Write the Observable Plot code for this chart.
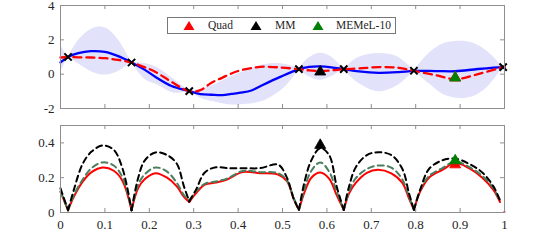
<!DOCTYPE html>
<html><head><meta charset="utf-8">
<script src="https://cdn.jsdelivr.net/npm/d3@7"></script>
<script src="https://cdn.jsdelivr.net/npm/@observablehq/plot@0.6"></script>
<style>
body{margin:0;background:#fff;}
#wrap{position:relative;width:538px;height:243px;font-family:"Liberation Serif","Times New Roman",serif;color:#262626;}
#wrap svg.plot-svg{display:block;background:transparent;overflow:visible;}
#wrap svg.plot-svg text{font-family:"Liberation Serif","Times New Roman",serif;font-size:13px;}
.legend{position:absolute;left:167px;top:17px;width:229px;height:17px;box-sizing:border-box;border:1px solid #777;background:#fff;font-size:11.5px;}
.legend .lab{position:absolute;top:0;line-height:15px;white-space:nowrap;}
.legend svg{position:absolute;top:2px;}
</style></head><body><div id="wrap"></div>
<script>
// ---------- data: top panel ----------
const obsX = [0.017, 0.16, 0.29, 0.537, 0.638, 0.796, 0.997];
const obsY = [1.0, 0.68, -0.99, 0.29, 0.29, 0.2, 0.41];

const curveX = [0, 0.017, 0.04, 0.068, 0.1, 0.13, 0.16, 0.19, 0.214, 0.25, 0.29, 0.315, 0.34, 0.365, 0.385, 0.405, 0.43, 0.45, 0.495, 0.537, 0.56, 0.585, 0.61, 0.638, 0.672, 0.717, 0.762, 0.796, 0.845, 0.89, 0.94, 0.997, 1.0];
const gpMean = [0.68, 1.0, 1.22, 1.34, 1.30, 1.05, 0.68, 0.25, -0.16, -0.69, -0.99, -1.16, -1.2, -1.22, -1.15, -1.08, -0.95, -0.7, -0.16, 0.29, 0.42, 0.45, 0.40, 0.29, 0.16, 0.08, 0.12, 0.19, 0.18, 0.17, 0.30, 0.41, 0.41];
const trueFn = [0.97, 1.0, 0.98, 0.97, 0.93, 0.83, 0.68, 0.40, 0.13, -0.45, -0.99, -0.93, -0.5, -0.2, 0.04, 0.22, 0.35, 0.43, 0.39, 0.29, 0.22, 0.19, 0.22, 0.29, 0.33, 0.41, 0.37, 0.19, -0.06, -0.29, 0.0, 0.41, 0.42];

const bandX  = [0, 0.017, 0.04, 0.065, 0.085, 0.105, 0.13, 0.16, 0.19, 0.22, 0.255, 0.29, 0.32, 0.345, 0.38, 0.42, 0.45, 0.48, 0.51, 0.537, 0.56, 0.585, 0.61, 0.638, 0.67, 0.717, 0.76, 0.796, 0.83, 0.86, 0.897, 0.93, 0.96, 0.997, 1.0];
const bandHi = [1.65, 1.0, 1.95, 2.55, 2.75, 2.65, 2.0, 0.68, 0.62, 0.35, -0.3, -0.99, -0.85, -0.64, -0.2, 0.23, 0.5, 0.62, 0.55, 0.29, 0.95, 1.22, 1.0, 0.29, 0.95, 1.2, 1.0, 0.19, 1.2, 1.75, 1.92, 1.8, 1.35, 0.41, 0.41];
const bandLo = [0.1, 1.0, 0.6, 0.2, 0.0, -0.05, 0.15, 0.68, -0.3, -0.65, -1.1, -0.99, -1.45, -1.61, -1.78, -1.75, -1.62, -1.25, -0.64, 0.29, -0.15, -0.35, -0.15, 0.29, -0.5, -1.03, -0.65, 0.19, -0.55, -1.15, -1.42, -1.3, -0.8, 0.41, 0.41];

// next-sample picks
const pickNames = ["Quad", "MM", "MEMeL-10"];
const pickColors = ["#ff0000", "#000000", "#008000"];
const pickX = [0.889, 0.585, 0.889];
const pickTopY = [-0.12, 0.23, -0.12];
const pickBotY = [0.284, 0.396, 0.307];

// ---------- data: bottom panel ----------
const botX = [0, 0.017, 0.03, 0.05, 0.07, 0.095, 0.12, 0.14, 0.16, 0.175, 0.19, 0.214, 0.24, 0.262, 0.278, 0.29, 0.305, 0.325, 0.35, 0.375, 0.41, 0.45, 0.49, 0.51, 0.525, 0.537, 0.55, 0.565, 0.585, 0.605, 0.622, 0.638, 0.65, 0.665, 0.69, 0.715, 0.745, 0.77, 0.785, 0.796, 0.81, 0.83, 0.86, 0.889, 0.92, 0.95, 0.975, 0.99, 1.0];
const quadVals = [0.12, 0.013, 0.09, 0.177, 0.232, 0.259, 0.24, 0.18, 0.013, 0.14, 0.192, 0.226, 0.2, 0.15, 0.09, 0.06, 0.11, 0.16, 0.172, 0.19, 0.232, 0.226, 0.218, 0.18, 0.08, 0.015, 0.12, 0.2, 0.23, 0.195, 0.1, 0.015, 0.11, 0.17, 0.228, 0.245, 0.225, 0.17, 0.08, 0.015, 0.12, 0.2, 0.245, 0.284, 0.255, 0.2, 0.13, 0.06, 0.005];
const memelVals = [0.12, 0.013, 0.1, 0.19, 0.255, 0.288, 0.27, 0.2, 0.013, 0.16, 0.22, 0.259, 0.235, 0.17, 0.1, 0.068, 0.12, 0.165, 0.178, 0.195, 0.238, 0.232, 0.226, 0.185, 0.085, 0.015, 0.14, 0.24, 0.288, 0.235, 0.12, 0.015, 0.12, 0.197, 0.25, 0.27, 0.258, 0.19, 0.09, 0.015, 0.13, 0.21, 0.255, 0.293, 0.262, 0.21, 0.14, 0.065, 0.008];
const mmVals = [0.139, 0.013, 0.13, 0.28, 0.35, 0.385, 0.36, 0.25, 0.013, 0.2, 0.3, 0.345, 0.33, 0.28, 0.15, 0.064, 0.13, 0.23, 0.26, 0.255, 0.255, 0.255, 0.275, 0.2, 0.08, 0.015, 0.18, 0.3, 0.37, 0.33, 0.15, 0.015, 0.15, 0.26, 0.33, 0.346, 0.33, 0.25, 0.11, 0.015, 0.13, 0.25, 0.3, 0.31, 0.28, 0.23, 0.15, 0.07, 0.01];

// ---------- ticks ----------
const xTicks = [0, 0.1, 0.2, 0.3, 0.4, 0.5, 0.6, 0.7, 0.8, 0.9, 1];
const xTickLabels = ["0", "0.1", "0.2", "0.3", "0.4", "0.5", "0.6", "0.7", "0.8", "0.9", "1"];
const topYTicks = [-2, 0, 2, 4];
const topYTickLabels = ["-2", "0", "2", "4"];
const botYTicks = [0, 0.2, 0.4];
const botYTickLabels = ["0", "0.2", "0.4"];

// ---------- build ----------
const W = 538, ML = 60, MR = 34;
const FW = W - ML - MR;
const frameColor = "#8e8e8e";
const fontStack = "Liberation Serif, Times New Roman, serif";
const font = {fontFamily: fontStack, fontSize: "13px", color: "#262626", background: "transparent"};

function tickRules(xt, yt, fh) {
  return [
    Plot.ruleX(xt, {x: d => d, insetTop: fh - 4, stroke: frameColor}),
    Plot.ruleX(xt, {x: d => d, insetBottom: fh - 4, stroke: frameColor}),
    Plot.ruleY(yt, {y: d => d, insetRight: FW - 4, stroke: frameColor}),
    Plot.ruleY(yt, {y: d => d, insetLeft: FW - 4, stroke: frameColor})
  ];
}

// split a series into pieces between observation points (pieces share the cusp points)
function pieces(xs, cols) {
  const out = [];
  xs.forEach((x, i) => {
    const rec = {x};
    for (const k in cols) rec[k] = cols[k][i];
    const hit = obsX.findIndex(o => Math.abs(o - x) < 1e-9);
    const seg = obsX.filter(o => o < x - 1e-9).length;
    out.push({...rec, seg});
    if (hit >= 0) out.push({...rec, seg: seg + 1});
  });
  return out;
}

const band = pieces(bandX, {lo: bandLo, hi: bandHi});
const meanData = curveX.map((x, i) => ({x, y: gpMean[i]}));
const trueData = curveX.map((x, i) => ({x, y: trueFn[i]}));
const obsData = obsX.map((x, i) => ({x, y: obsY[i]}));
const picksTop = pickNames.map((n, i) => ({n, x: pickX[i], y: pickTopY[i], c: pickColors[i]}));
const picksBot = pickNames.map((n, i) => ({n, x: pickX[i], y: pickBotY[i], c: pickColors[i]}));
const botData = pieces(botX, {quad: quadVals, memel: memelVals, mm: mmVals});

const topH = 116, topMT = 5, topMB = 8;
const topPlot = Plot.plot({
  width: W, height: topH, marginLeft: ML, marginRight: MR, marginTop: topMT, marginBottom: topMB,
  style: font,
  x: {domain: [0, 1], axis: null},
  y: {domain: [-2, 4], axis: null},
  marks: [
    Plot.areaY(band, {x: "x", y1: "lo", y2: "hi", z: "seg", fill: "#e2e2fa", curve: "catmull-rom"}),
    Plot.line(meanData, {x: "x", y: "y", stroke: "#0000ff", strokeWidth: 2.3, curve: "catmull-rom"}),
    Plot.line(trueData, {x: "x", y: "y", stroke: "#ff0000", strokeWidth: 2.3, strokeDasharray: "8,5", curve: "catmull-rom"}),
    Plot.dot(obsData, {x: "x", y: "y", symbol: "times", r: 3.4, stroke: "#000", strokeWidth: 2}),
    Plot.dot(picksTop, {x: "x", y: "y", symbol: "triangle", r: 4.1, dy: 1.6, fill: "c", stroke: "c", strokeWidth: 0.8}),
    Plot.frame({stroke: frameColor}),
    ...tickRules(xTicks, topYTicks, topH - topMT - topMB),
    Plot.axisY(topYTicks, {label: null, tickSize: 0, tickPadding: 6, fontFamily: fontStack, tickFormat: d => topYTickLabels[topYTicks.indexOf(d)]})
  ]
});

const botH = 123, botMT = 9, botMB = 27;
const botPlot = Plot.plot({
  width: W, height: botH, marginLeft: ML, marginRight: MR, marginTop: botMT, marginBottom: botMB,
  style: font,
  x: {domain: [0, 1], axis: null},
  y: {domain: [0, 0.5], axis: null},
  marks: [
    Plot.line(botData, {x: "x", y: "quad", z: "seg", stroke: "#ff0000", strokeWidth: 2, curve: "catmull-rom"}),
    Plot.line(botData, {x: "x", y: "memel", z: "seg", stroke: "#4b7d5e", strokeWidth: 2, strokeDasharray: "6,4", curve: "catmull-rom"}),
    Plot.line(botData, {x: "x", y: "mm", z: "seg", stroke: "#000", strokeWidth: 2, strokeDasharray: "6,4", curve: "catmull-rom"}),
    Plot.dot(picksBot, {x: "x", y: "y", symbol: "triangle", r: 4.1, dy: 1.6, fill: "c", stroke: "c", strokeWidth: 0.8}),
    Plot.frame({stroke: frameColor}),
    ...tickRules(xTicks, botYTicks, botH - botMT - botMB),
    Plot.axisY(botYTicks, {label: null, tickSize: 0, tickPadding: 6, fontFamily: fontStack, tickFormat: d => botYTickLabels[botYTicks.indexOf(d)]}),
    Plot.axisX(xTicks, {label: null, tickSize: 0, tickPadding: 7, fontFamily: fontStack, tickFormat: d => xTickLabels[xTicks.indexOf(d)]})
  ]
});

topPlot.classList.add("plot-svg");
botPlot.classList.add("plot-svg");
const wrap = document.getElementById("wrap");
wrap.appendChild(topPlot);
wrap.appendChild(botPlot);

// legend (inside top panel)
const legend = document.createElement("div");
legend.className = "legend";
const triLeft = [15, 82, 144];
const labLeft = [40, 107, 168];
pickNames.forEach((n, i) => {
  const s = document.createElementNS("http://www.w3.org/2000/svg", "svg");
  s.setAttribute("width", "12"); s.setAttribute("height", "11");
  s.style.left = triLeft[i] + "px";
  const p = document.createElementNS("http://www.w3.org/2000/svg", "polygon");
  p.setAttribute("points", "6,1 11.5,10 0.5,10");
  p.setAttribute("fill", pickColors[i]);
  s.appendChild(p);
  legend.appendChild(s);
  const t = document.createElement("span");
  t.className = "lab";
  t.style.left = labLeft[i] + "px";
  t.textContent = n;
  legend.appendChild(t);
});
wrap.appendChild(legend);
</script></body></html>
